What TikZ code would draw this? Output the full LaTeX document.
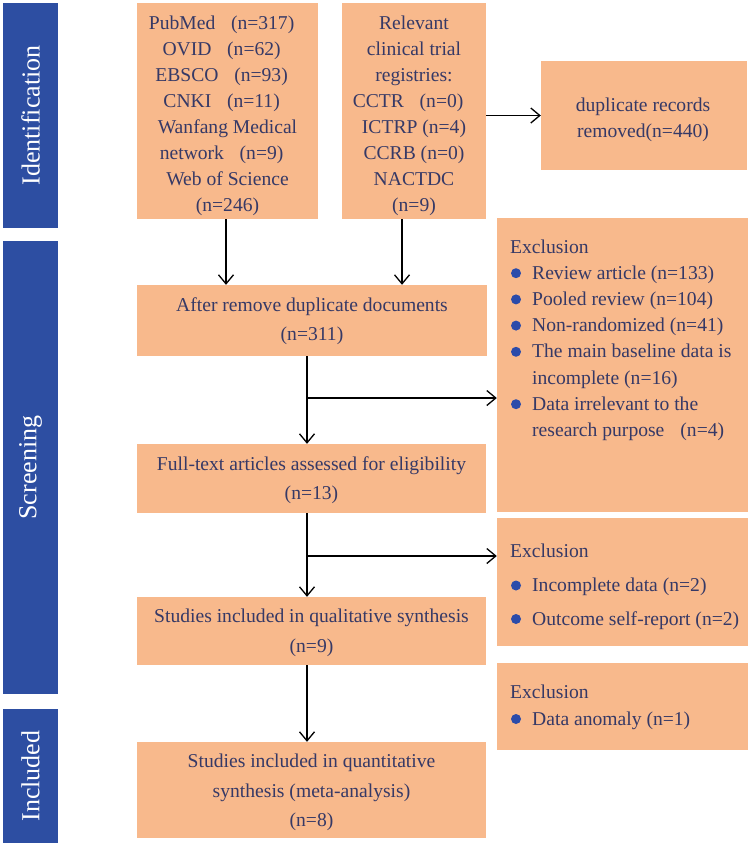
\documentclass[tikz,border=0pt]{standalone}
\usepackage{fontspec}
\setmainfont{Liberation Serif}
\usetikzlibrary{arrows.meta}
\definecolor{boxc}{HTML}{F8B98C}
\definecolor{barc}{HTML}{2D4EA2}
\definecolor{txtc}{HTML}{363966}
\definecolor{bulc}{HTML}{2B4BAA}
\newcommand\flp{\kern0.8em(}
\newcommand\frp{)\kern0.6em}
\begin{document}
\begin{tikzpicture}[x=1pt,y=-1pt,
  boxnode/.style={fill=boxc, draw=none, inner sep=0pt},
  barnode/.style={fill=barc, draw=none, inner sep=0pt, rotate=90, text=white,
    font=\fontsize{26}{30}\selectfont},
  txt/.style={text=txtc, align=center, inner sep=0pt, font=\fontsize{19.6}{#1}\selectfont},
  txt/.default=26,
  exl/.style={text=txtc, anchor=base west, inner sep=0pt, font=\fontsize{19.6}{26}\selectfont},
  bul/.style={fill=bulc},
  arr/.style={-{Straight Barb[length=9pt,width=15pt]}, line width=1.3pt, black}]
\useasboundingbox (0,0) rectangle (750,846);

% phase bars
\node[barnode, minimum width=225pt, minimum height=55pt] (bar1) at (30.5,115.5) {Identification};
\node[barnode, minimum width=453pt, minimum height=55pt] (bar2) at (30.5,467.5) {Screening};
\node[barnode, minimum width=134pt, minimum height=55pt] (bar3) at (30.5,776) {Included};

% boxes
\node[boxnode, minimum width=181pt, minimum height=216pt] (b1) at (227.5,111) {};
\node[boxnode, minimum width=144pt, minimum height=216pt] (b2) at (414,111) {};
\node[boxnode, minimum width=206pt, minimum height=109pt] (dup) at (644,115.5) {};
\node[boxnode, minimum width=350pt, minimum height=71pt] (after) at (312,320.5) {};
\node[boxnode, minimum width=349pt, minimum height=69pt] (full) at (311.5,478.5) {};
\node[boxnode, minimum width=349pt, minimum height=68pt] (qual) at (311.5,631) {};
\node[boxnode, minimum width=349pt, minimum height=96pt] (quant) at (311.5,790) {};
\node[boxnode, minimum width=251pt, minimum height=294pt] (ex1) at (622.5,365) {};
\node[boxnode, minimum width=251pt, minimum height=128pt] (ex2) at (622.5,582) {};
\node[boxnode, minimum width=251pt, minimum height=87pt] (ex3) at (622.5,706.5) {};

% box texts
\node[txt] (b1t) at (227.5,116) {PubMed\flp n=317\frp\\ OVID\flp n=62\frp\\ EBSCO\flp n=93\frp\\ CNKI\flp n=11\frp\\ Wanfang Medical\\ network\flp n=9\frp\\ Web of Science\\ (n=246)};
\node[txt] (b2t) at (414,115.5) {Relevant\\ clinical trial\\ registries:\\ CCTR\flp n=0\frp\\ ICTRP (n=4)\\ CCRB (n=0)\\ NACTDC\\ (n=9)};
\node[txt] (dupt) at (643,120) {duplicate records\\ removed(n=440)};
\node[txt=29] (aftert) at (312,321.5) {After remove duplicate documents\\ (n=311)};
\node[txt=29] (fullt) at (311.5,480.5) {Full-text articles assessed for eligibility\\ (n=13)};
\node[txt=30] (qualt) at (311.5,633) {Studies included in qualitative synthesis\\ (n=9)};
\node[txt=29.5] (quantt) at (311.5,792.5) {Studies included in quantitative\\ synthesis (meta-analysis)\\ (n=8)};

% exclusion 1
\node[exl] (e1h) at (510,253) {Exclusion};
\node[exl] (e1a) at (532,279.2) {Review article (n=133)};
\node[exl] (e1b) at (532,305.4) {Pooled review (n=104)};
\node[exl] (e1c) at (532,331.6) {Non-randomized (n=41)};
\node[exl] (e1d) at (532,357.8) {The main baseline data is};
\node[exl] (e1e) at (532,384) {incomplete (n=16)};
\node[exl] (e1f) at (532,410.2) {Data irrelevant to the};
\node[exl] (e1g) at (532,436.4) {research purpose\kern16pt(n=4)};
\foreach \yy in {279.2,305.4,331.6,357.8,410.2}
  \fill[bul] (516,\yy-6) circle[radius=5pt];

% exclusion 2
\node[exl] (e2h) at (510,557) {Exclusion};
\node[exl] (e2a) at (532,591.5) {Incomplete data (n=2)};
\node[exl] (e2b) at (532,625) {Outcome self-report (n=2)};
\foreach \yy in {591.5,625}
  \fill[bul] (516,\yy-6) circle[radius=5pt];

% exclusion 3
\node[exl] (e3h) at (510,698) {Exclusion};
\node[exl] (e3a) at (532,725) {Data anomaly (n=1)};
\fill[bul] (516,719) circle[radius=5pt];

% connectors
\coordinate (br1) at (307,398);
\coordinate (br2) at (307,556);
\draw[arr] (b1.south -| 226,0) -- (after.north -| 226,0);
\draw[arr] (b2.south -| 402,0) -- (after.north -| 402,0);
\draw[arr] (b2.east |- dup.west) -- (dup.west);
\draw[arr] (after.south -| 307,0) -- (full.north -| 307,0);
\draw[arr] (br1) -- (br1 -| ex1.west);
\draw[arr] (full.south -| 307,0) -- (qual.north -| 307,0);
\draw[arr] (br2) -- (br2 -| ex2.west);
\draw[arr] (qual.south -| 307,0) -- (quant.north -| 307,0);
\end{tikzpicture}
\end{document}
